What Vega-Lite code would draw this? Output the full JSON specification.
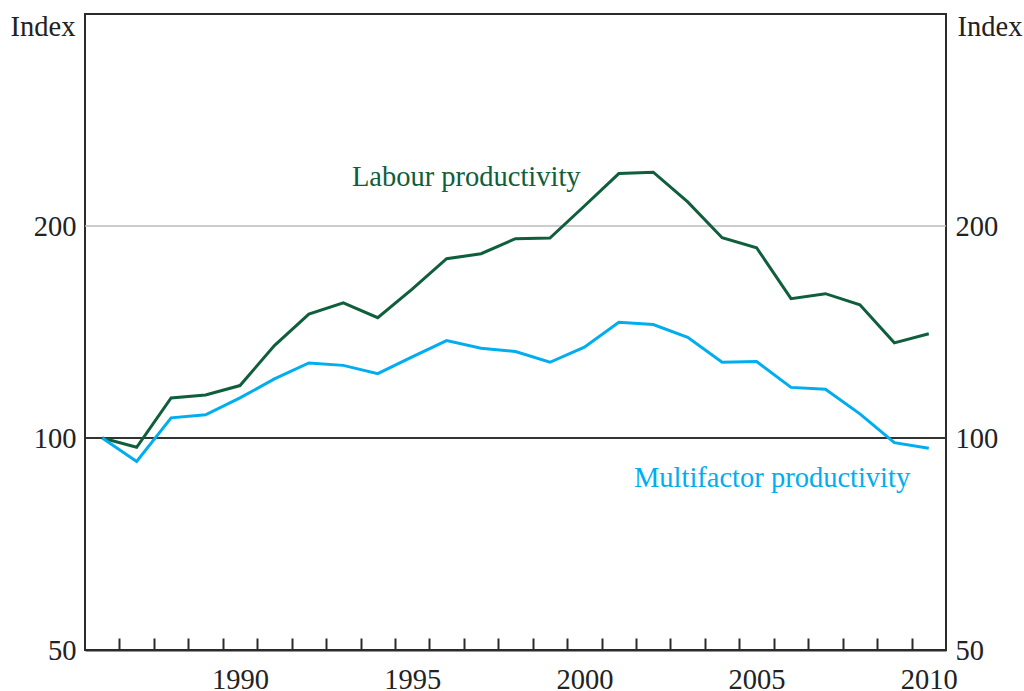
{
  "$schema": "https://vega.github.io/schema/vega-lite/v6.json",
  "width": 861,
  "height": 636,
  "autosize": {"type": "none"},
  "padding": {"left": 85, "top": 14, "right": 78, "bottom": 41},
  "background": "white",
  "config": {
    "view": {"stroke": "#2b2b2b", "strokeWidth": 2},
    "font": "Liberation Serif",
    "axis": {"grid": false, "domain": false, "labelFont": "Liberation Serif", "titleFont": "Liberation Serif", "labelFontSize": 28.5, "titleFontSize": 28.5, "labelColor": "#222", "titleColor": "#222", "titleFontWeight": "normal"}
  },
  "datasets": {
    "series": [
      {"year": 1986, "series": "Labour productivity", "value": 100},
      {"year": 1987, "series": "Labour productivity", "value": 97.0},
      {"year": 1988, "series": "Labour productivity", "value": 114.0},
      {"year": 1989, "series": "Labour productivity", "value": 115.1},
      {"year": 1990, "series": "Labour productivity", "value": 118.7},
      {"year": 1991, "series": "Labour productivity", "value": 135.3},
      {"year": 1992, "series": "Labour productivity", "value": 149.9},
      {"year": 1993, "series": "Labour productivity", "value": 155.6},
      {"year": 1994, "series": "Labour productivity", "value": 148.2},
      {"year": 1995, "series": "Labour productivity", "value": 162.7},
      {"year": 1996, "series": "Labour productivity", "value": 179.7},
      {"year": 1997, "series": "Labour productivity", "value": 182.7},
      {"year": 1998, "series": "Labour productivity", "value": 191.9},
      {"year": 1999, "series": "Labour productivity", "value": 192.3},
      {"year": 2000, "series": "Labour productivity", "value": 213.5},
      {"year": 2001, "series": "Labour productivity", "value": 237.4},
      {"year": 2002, "series": "Labour productivity", "value": 238.5},
      {"year": 2003, "series": "Labour productivity", "value": 216.4},
      {"year": 2004, "series": "Labour productivity", "value": 192.5},
      {"year": 2005, "series": "Labour productivity", "value": 186.3},
      {"year": 2006, "series": "Labour productivity", "value": 157.7},
      {"year": 2007, "series": "Labour productivity", "value": 160.3},
      {"year": 2008, "series": "Labour productivity", "value": 154.6},
      {"year": 2009, "series": "Labour productivity", "value": 136.5},
      {"year": 2010, "series": "Labour productivity", "value": 140.6},
      {"year": 1986, "series": "Multifactor productivity", "value": 100},
      {"year": 1987, "series": "Multifactor productivity", "value": 92.6},
      {"year": 1988, "series": "Multifactor productivity", "value": 106.8},
      {"year": 1989, "series": "Multifactor productivity", "value": 107.9},
      {"year": 1990, "series": "Multifactor productivity", "value": 114.0},
      {"year": 1991, "series": "Multifactor productivity", "value": 121.3},
      {"year": 1992, "series": "Multifactor productivity", "value": 127.8},
      {"year": 1993, "series": "Multifactor productivity", "value": 126.8},
      {"year": 1994, "series": "Multifactor productivity", "value": 123.4},
      {"year": 1995, "series": "Multifactor productivity", "value": 130.4},
      {"year": 1996, "series": "Multifactor productivity", "value": 137.5},
      {"year": 1997, "series": "Multifactor productivity", "value": 134.1},
      {"year": 1998, "series": "Multifactor productivity", "value": 132.7},
      {"year": 1999, "series": "Multifactor productivity", "value": 128.1},
      {"year": 2000, "series": "Multifactor productivity", "value": 134.6},
      {"year": 2001, "series": "Multifactor productivity", "value": 146.0},
      {"year": 2002, "series": "Multifactor productivity", "value": 144.9},
      {"year": 2003, "series": "Multifactor productivity", "value": 139.0},
      {"year": 2004, "series": "Multifactor productivity", "value": 128.1},
      {"year": 2005, "series": "Multifactor productivity", "value": 128.4},
      {"year": 2006, "series": "Multifactor productivity", "value": 118.0},
      {"year": 2007, "series": "Multifactor productivity", "value": 117.3},
      {"year": 2008, "series": "Multifactor productivity", "value": 108.2},
      {"year": 2009, "series": "Multifactor productivity", "value": 98.5},
      {"year": 2010, "series": "Multifactor productivity", "value": 96.7}
    ],
    "refs": [
      {"level": 200, "kind": "grid"},
      {"level": 100, "kind": "base"}
    ],
    "labels": [
      {"series": "Labour productivity", "year": 1996.57, "value": 234.6},
      {"series": "Multifactor productivity", "year": 2005.45, "value": 87.8}
    ]
  },
  "layer": [
    {
      "data": {"name": "refs"},
      "mark": {"type": "rule"},
      "encoding": {
        "y": {"field": "level", "type": "quantitative", "scale": {"type": "log", "domain": [50, 400], "nice": false, "zero": false}, "axis": null},
        "stroke": {"field": "kind", "type": "nominal", "scale": {"domain": ["grid", "base"], "range": ["#bdbdbd", "#333333"]}, "legend": null},
        "strokeWidth": {"field": "kind", "type": "nominal", "scale": {"domain": ["grid", "base"], "range": [1.5, 1.8]}, "legend": null}
      }
    },
    {
      "data": {"name": "series"},
      "mark": {"type": "line", "strokeWidth": 3, "strokeJoin": "miter"},
      "encoding": {
        "x": {"field": "year", "type": "quantitative", "scale": {"domain": [1985.5, 2010.5], "nice": false, "zero": false},
              "axis": {"orient": "bottom", "values": [1990, 1995, 2000, 2005, 2010], "format": "d", "ticks": false, "labelPadding": 15, "title": null}},
        "y": {"field": "value", "type": "quantitative", "scale": {"type": "log", "domain": [50, 400], "nice": false, "zero": false},
              "axis": {"orient": "left", "values": [50, 100, 200], "format": "d", "ticks": false, "labelPadding": 9, "title": "Index", "titleAngle": 0, "titleAlign": "right", "titleBaseline": "alphabetic", "titleX": -10, "titleY": 21}},
        "color": {"field": "series", "type": "nominal", "scale": {"domain": ["Labour productivity", "Multifactor productivity"], "range": ["#0f5e3c", "#00aeef"]}, "legend": null},
        "detail": {"field": "series"}
      }
    },
    {
      "data": {"name": "labels"},
      "mark": {"type": "text", "fontSize": 28.5, "font": "Liberation Serif", "align": "center", "baseline": "middle"},
      "encoding": {
        "x": {"field": "year", "type": "quantitative",
              "axis": {"orient": "bottom", "values": [1986.5, 1987.5, 1988.5, 1989.5, 1990.5, 1991.5, 1992.5, 1993.5, 1994.5, 1995.5, 1996.5, 1997.5, 1998.5, 1999.5, 2000.5, 2001.5, 2002.5, 2003.5, 2004.5, 2005.5, 2006.5, 2007.5, 2008.5, 2009.5], "labels": false, "ticks": true, "tickSize": -12, "tickWidth": 2, "tickColor": "#2b2b2b", "domain": true, "domainColor": "#2b2b2b", "domainWidth": 2, "title": null}},
        "y": {"field": "value", "type": "quantitative",
              "axis": {"orient": "right", "values": [50, 100, 200], "format": "d", "ticks": false, "labelPadding": 9, "title": "Index", "titleAngle": 0, "titleAlign": "left", "titleBaseline": "alphabetic", "titleX": 11, "titleY": 21}},
        "text": {"field": "series"},
        "color": {"field": "series", "type": "nominal", "legend": null}
      }
    }
  ],
  "resolve": {"axis": {"x": "independent", "y": "independent"}}
}
